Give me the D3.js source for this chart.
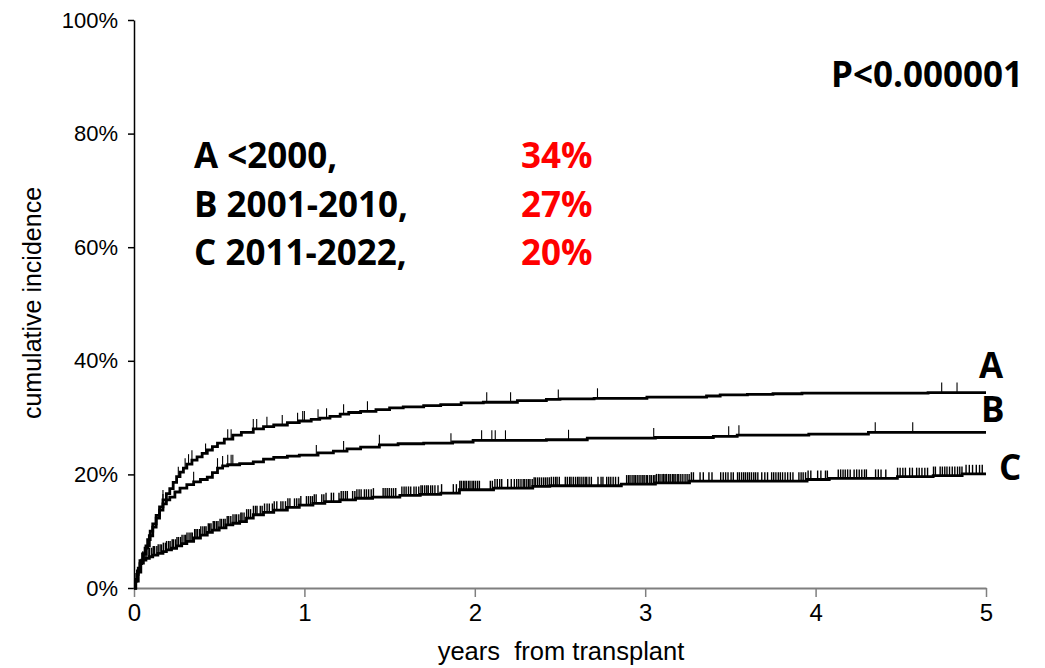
<!DOCTYPE html>
<html>
<head>
<meta charset="utf-8">
<script src="https://cdn.jsdelivr.net/npm/d3@7"></script>
<style>
  html, body { margin: 0; padding: 0; background: #fff; }
  svg { display: block; }
</style>
</head>
<body>
<svg id="chart" width="1045" height="668"></svg>
<script>
// Cumulative incidence by transplant era (step estimates, [years, percent])
const seriesNames = ["A", "B", "C"];
const legendLabels = ["A <2000,", "B 2001-2010,", "C 2011-2022,"];
const fiveYearPct = ["34%", "27%", "20%"];
const pValueLabel = "P<0.000001";

const curveA = [
  [0,0],[0.01,1.5],[0.02,3.0],[0.035,4.8],[0.05,6.0],[0.065,7.0],[0.08,8.5],[0.095,10.0],
  [0.11,11.3],[0.13,12.8],[0.15,14.3],[0.17,15.5],[0.19,16.6],[0.21,17.5],[0.23,18.6],
  [0.25,19.6],[0.27,20.4],[0.29,21.1],[0.31,21.8],[0.34,22.5],[0.37,23.1],[0.40,23.7],
  [0.43,24.3],[0.46,24.9],[0.49,25.5],[0.53,26.2],[0.58,26.9],[0.63,27.4],[0.70,28.0],
  [0.76,28.4],[0.82,28.7],[0.90,29.1],[0.97,29.4],[1.04,29.7],[1.09,29.9],[1.15,30.2],
  [1.21,30.6],[1.26,30.9],[1.33,31.1],[1.42,31.4],[1.50,31.7],[1.58,31.9],[1.70,32.1],
  [1.80,32.3],[1.92,32.6],[2.05,32.7],[2.25,33.0],[2.42,33.2],[2.50,33.3],[2.70,33.4],
  [3.01,33.6],[3.36,33.8],[3.44,34.0],[3.60,34.1],[3.75,34.2],[3.92,34.3],[4.66,34.4],[5.0,34.4]
];
const curveB = [
  [0,0],[0.01,1.2],[0.025,2.8],[0.04,4.4],[0.055,6.0],[0.07,7.4],[0.09,9.2],[0.11,10.7],
  [0.13,12.3],[0.15,13.7],[0.17,14.8],[0.19,15.5],[0.21,16.0],[0.24,16.9],[0.27,17.6],
  [0.31,18.2],[0.35,18.7],[0.39,19.1],[0.43,19.5],[0.46,20.3],[0.49,21.1],[0.52,21.5],
  [0.55,21.7],[0.62,21.9],[0.70,22.2],[0.76,22.7],[0.82,23.0],[0.90,23.2],[0.97,23.4],
  [1.08,23.8],[1.17,24.1],[1.25,24.5],[1.33,24.8],[1.44,25.2],[1.55,25.4],[1.70,25.5],
  [1.87,25.7],[1.99,26.0],[2.42,26.1],[2.66,26.4],[3.06,26.5],[3.40,26.7],[3.54,26.9],
  [3.96,27.1],[4.31,27.4],[5.0,27.4]
];
const curveC = [
  [0,0],[0.008,1.2],[0.016,2.4],[0.025,3.5],[0.035,4.3],[0.045,4.9],[0.07,5.2],[0.09,5.5],
  [0.11,5.8],[0.14,6.1],[0.17,6.4],[0.19,6.7],[0.22,7.0],[0.25,7.4],[0.28,7.8],[0.31,8.2],
  [0.35,8.8],[0.39,9.3],[0.43,9.8],[0.46,10.2],[0.50,10.6],[0.54,11.1],[0.58,11.4],
  [0.62,11.7],[0.66,12.3],[0.70,12.9],[0.76,13.3],[0.82,13.7],[0.90,14.2],[0.97,14.6],
  [1.05,14.9],[1.12,15.2],[1.21,15.5],[1.30,15.8],[1.40,16.0],[1.56,16.3],[1.68,16.5],
  [1.80,16.7],[1.91,17.3],[2.11,17.6],[2.34,17.9],[2.44,18.0],[2.86,18.3],[3.06,18.5],
  [3.26,18.8],[3.95,19.1],[4.08,19.3],[4.48,19.6],[4.69,19.8],[4.86,20.1],[5.0,20.1]
];

// Censoring times (years)
const censorA = [0.17,0.26,0.30,0.32,0.34,0.42,0.55,0.57,0.70,0.72,0.78,0.87,0.96,0.99,1.00,
  1.08,1.13,1.23,1.37,2.07,2.21,2.49,2.72,4.74,4.83];
const censorB = [0.17,0.35,0.49,0.52,0.55,0.57,0.58,1.07,1.23,1.44,1.86,2.04,2.10,2.12,2.18,
  2.55,3.05,3.49,3.55,4.35,4.57];
const censorC = [
  0.052,0.064,0.071,0.083,0.092,0.104,0.113,0.121,0.134,0.142,0.153,0.161,0.172,0.184,0.191,
  0.203,0.212,0.224,0.231,0.243,0.252,0.261,0.273,0.282,0.294,0.303,0.311,0.323,0.334,0.342,
  0.356,0.364,0.373,0.385,0.392,0.404,0.415,0.423,0.436,0.444,0.452,0.465,0.473,0.484,0.493,
  0.505,0.514,0.526,0.535,0.547,0.556,0.568,0.581,0.593,0.602,0.615,0.627,0.634,0.646,0.661,
  0.672,0.684,0.701,0.713,0.722,0.741,0.752,0.766,0.781,0.794,0.812,0.823,0.838,
  0.862,0.874,0.889,0.903,0.915,0.942,0.955,0.968,0.979,
  1.012,1.024,1.036,1.047,1.058,1.069,1.102,1.114,1.127,1.158,1.171,
  1.203,1.216,1.228,1.241,1.252,1.283,1.296,1.308,1.321,1.333,
  1.352,1.364,1.377,1.392,1.405,1.462,1.474,1.486,1.498,1.511,1.523,1.536,
  1.572,1.585,1.597,1.611,1.624,1.643,1.656,1.671,
  1.684,1.693,1.706,1.718,1.727,1.741,1.752,1.766,1.784,1.805,1.874,1.892,
  1.912,1.921,1.933,1.942,1.951,1.963,1.972,1.984,1.993,2.004,2.016,2.027,
  2.091,2.103,2.118,2.132,2.146,2.158,2.193,2.214,2.232,2.246,2.258,2.271,
  2.284,2.293,2.305,2.316,2.324,2.337,2.348,2.356,2.368,2.379,2.391,2.403,2.414,2.425,
  2.437,2.449,2.462,2.474,2.483,2.496,
  2.531,2.543,2.556,2.565,2.578,2.591,2.603,2.612,2.624,2.636,2.648,2.657,2.671,2.684,
  2.723,2.741,2.752,2.774,2.786,2.798,2.812,2.826,2.843,
  2.891,2.902,2.911,2.923,2.934,2.942,2.953,2.964,2.975,2.986,2.994,3.006,3.014,3.027,
  3.036,3.048,3.057,3.066,3.078,3.087,3.099,3.108,3.117,3.126,
  3.138,3.147,3.159,3.168,3.176,3.188,3.197,3.209,3.221,3.234,3.246,3.258,3.271,3.283,
  3.322,3.341,3.374,3.392,3.443,3.458,3.472,3.486,3.504,3.517,
  3.542,3.553,3.566,3.578,3.589,3.601,3.612,3.624,3.637,3.648,3.661,3.684,3.702,3.718,
  3.742,3.754,3.767,3.781,3.793,3.806,3.821,3.836,3.852,3.867,
  3.902,3.915,3.927,3.941,3.956,3.972,4.012,4.031,4.058,4.069,
  4.133,4.147,4.161,4.174,4.188,4.203,4.226,4.241,4.256,4.271,4.287,4.298,
  4.352,4.368,4.384,4.412,4.481,4.496,4.512,4.527,4.552,4.568,
  4.593,4.608,4.624,4.641,4.657,4.692,4.703,
  4.731,4.744,4.758,4.771,4.786,4.802,4.817,4.833,4.846,4.859,
  4.883,4.902,4.921,4.943,4.962,4.978
];

const xTicks = [0, 1, 2, 3, 4, 5];
const yTicks = [0, 20, 40, 60, 80, 100];
const xTitle = "years  from transplant";
const yTitle = "cumulative incidence";

const svg = d3.select("#chart");
const plot = { left: 134, right: 986, top: 20, bottom: 588 };

const x = d3.scaleLinear().domain([0, 5]).range([plot.left, plot.right]);
const y = d3.scaleLinear().domain([0, 100]).range([plot.bottom, plot.top]);

const axisFont = "Arial, 'Liberation Sans', sans-serif";
const boldFont = "'Open Sans', 'Noto Sans', sans-serif";
const boldSize = 35;

// Y axis (black, ticks outside)
const yAxis = svg.append("g")
  .attr("transform", `translate(${plot.left},0)`)
  .call(d3.axisLeft(y).tickValues(yTicks).tickFormat(d => d + "%").tickSize(6).tickPadding(10).tickSizeOuter(0));
yAxis.select(".domain").attr("stroke", "#000").attr("stroke-width", 1.5);
yAxis.selectAll(".tick line").attr("stroke", "#000").attr("stroke-width", 1.5);
yAxis.selectAll(".tick text")
  .attr("font-family", axisFont).attr("font-size", 22).attr("fill", "#000");

// X axis (grey, ticks outside)
const xAxis = svg.append("g")
  .attr("transform", `translate(0,${plot.bottom})`)
  .call(d3.axisBottom(x).tickValues(xTicks).tickFormat(d3.format("d")).tickSize(9).tickPadding(4).tickSizeOuter(0));
xAxis.select(".domain").attr("stroke", "#7f7f7f").attr("stroke-width", 2);
xAxis.selectAll(".tick line").attr("stroke", "#7f7f7f").attr("stroke-width", 1.5);
xAxis.selectAll(".tick text")
  .attr("font-family", axisFont).attr("font-size", 24).attr("fill", "#000")
  .attr("dy", "0.85em");

// Axis titles
svg.append("text")
  .attr("x", (plot.left + plot.right) / 2 + 1).attr("y", 660)
  .attr("text-anchor", "middle")
  .attr("font-family", axisFont).attr("font-size", 25.5)
  .style("white-space", "pre")
  .text(xTitle);

svg.append("text")
  .attr("transform", "translate(41,303) rotate(-90)")
  .attr("text-anchor", "middle")
  .attr("font-family", axisFont).attr("font-size", 25)
  .text(yTitle);

// Step curves
const curves = [curveA, curveB, curveC];
const censors = [censorA, censorB, censorC];
const tickHeights = [10, 10, 9];
const tickWidths = [1.1, 1.1, 1.4];

const line = d3.line()
  .x(d => x(d[0]))
  .y(d => y(d[1]))
  .curve(d3.curveStepAfter);

const stepAt = (data, t) => {
  const i = d3.bisector(d => d[0]).right(data, t) - 1;
  return data[Math.max(0, i)][1];
};

curves.forEach((data, k) => {
  svg.append("g")
    .selectAll("line")
    .data(censors[k])
    .join("line")
    .attr("x1", d => x(d)).attr("x2", d => x(d))
    .attr("y1", d => y(stepAt(data, d)))
    .attr("y2", d => y(stepAt(data, d)) - tickHeights[k])
    .attr("stroke", "#000")
    .attr("stroke-width", tickWidths[k]);

  svg.append("path")
    .datum(data)
    .attr("d", line)
    .attr("fill", "none")
    .attr("stroke", "#000")
    .attr("stroke-width", 2.8)
    .attr("stroke-linejoin", "miter");
});

// Curve end labels
const endOffsets = [[-7, -15], [-5, -10], [13, 6]];
curves.forEach((data, k) => {
  const last = data[data.length - 1];
  svg.append("text")
    .attr("x", x(last[0]) + endOffsets[k][0])
    .attr("y", y(last[1]) + endOffsets[k][1])
    .attr("font-family", boldFont).attr("font-weight", 700).attr("font-size", boldSize)
    .text(seriesNames[k]);
});

// Legend with five-year incidence
const legendBaselines = [168, 217, 265];
legendLabels.forEach((lab, k) => {
  svg.append("text")
    .attr("x", 194).attr("y", legendBaselines[k])
    .attr("font-family", boldFont).attr("font-weight", 700).attr("font-size", boldSize)
    .attr("fill", "#000")
    .text(lab);
  svg.append("text")
    .attr("x", 521).attr("y", legendBaselines[k])
    .attr("font-family", boldFont).attr("font-weight", 700).attr("font-size", boldSize)
    .attr("fill", "#ff0000")
    .text(fiveYearPct[k]);
});

// Test statistic
svg.append("text")
  .attr("x", 831).attr("y", 87)
  .attr("font-family", boldFont).attr("font-weight", 700).attr("font-size", boldSize)
  .text(pValueLabel);
</script>
</body>
</html>
